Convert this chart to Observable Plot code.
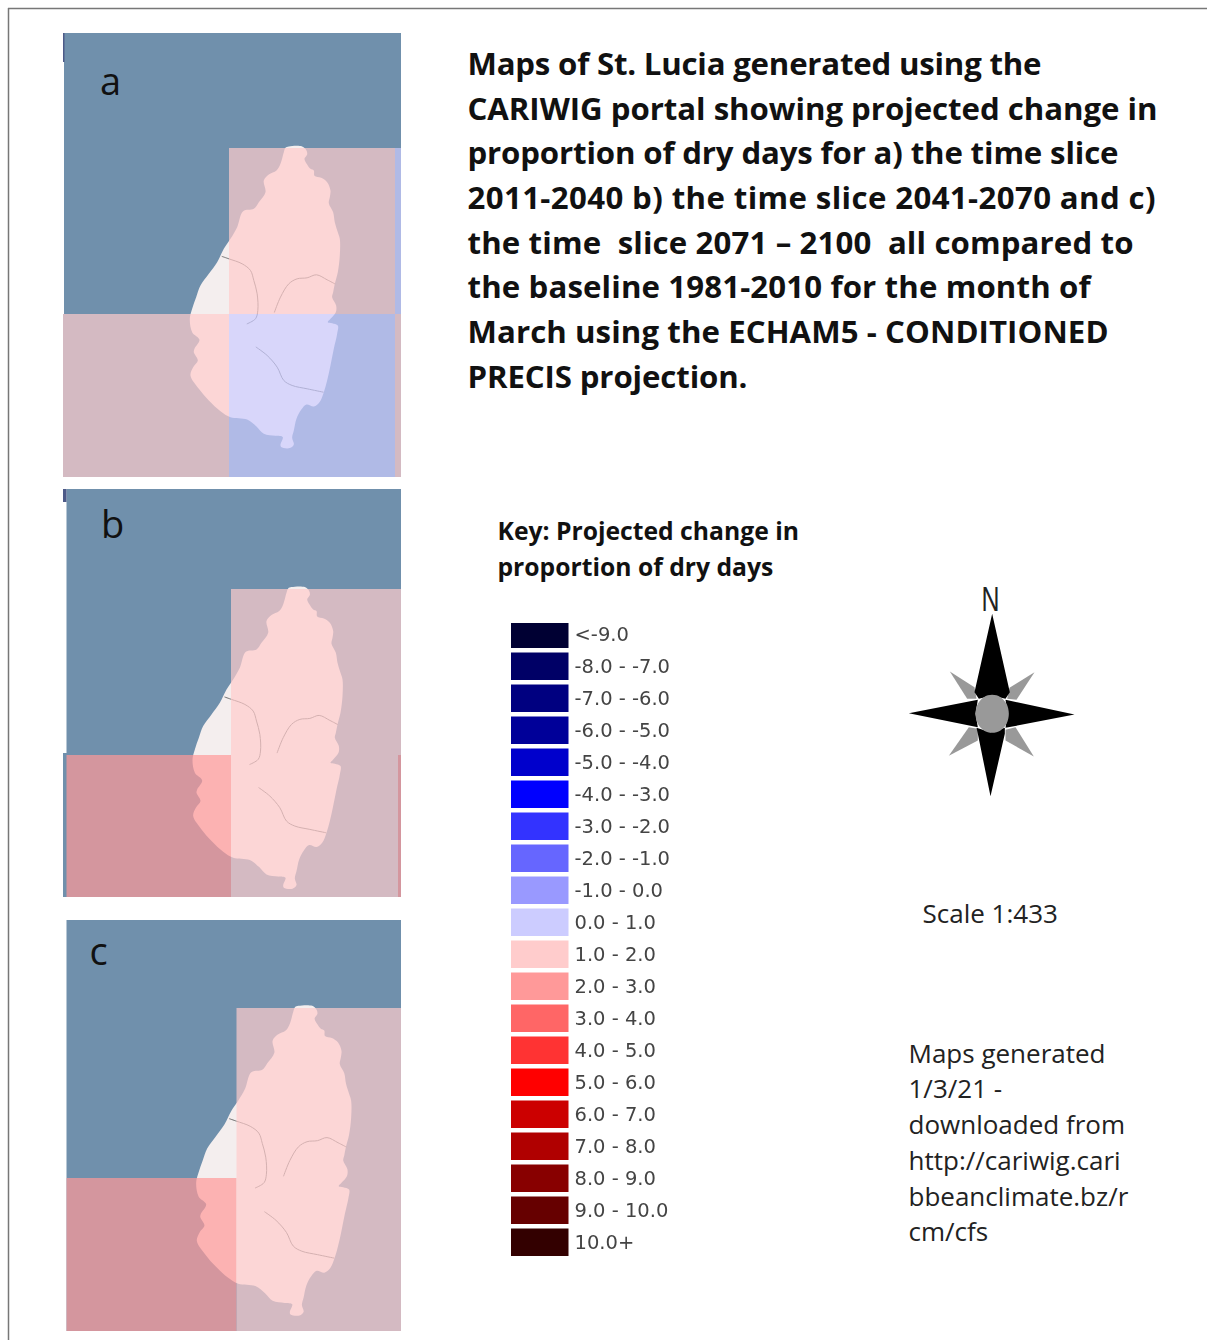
<!DOCTYPE html>
<html><head><meta charset="utf-8">
<script src="https://cdn.jsdelivr.net/npm/d3@7"></script>
<script src="https://cdn.jsdelivr.net/npm/@observablehq/plot@0.6"></script>
<style>html,body{margin:0;padding:0;background:#fff}svg{display:block}</style>
</head><body><div id="chart"></div>
<script>
// Legend
const keyLabels = ["<-9.0","-8.0 - -7.0","-7.0 - -6.0","-6.0 - -5.0","-5.0 - -4.0","-4.0 - -3.0","-3.0 - -2.0","-2.0 - -1.0","-1.0 - 0.0","0.0 - 1.0","1.0 - 2.0","2.0 - 3.0","3.0 - 4.0","4.0 - 5.0","5.0 - 6.0","6.0 - 7.0","7.0 - 8.0","8.0 - 9.0","9.0 - 10.0","10.0+"];
const keyColors = ["#000033","#000066","#000080","#000099","#0000cc","#0000ff","#3333ff","#6666ff","#9999ff","#ccccff","#ffcccc","#ff9999","#ff6666","#ff3333","#ff0000","#cc0000","#b00000","#880000","#660000","#330000"];
// Grid cells of each map: [x1, x2, y1, y2, class]
const cellsA = [[229,395,148,314,"1.0 - 2.0"],[395,401,148,314,"0.0 - 1.0"],[63,229,314,477,"1.0 - 2.0"],[229,395,314,477,"0.0 - 1.0"],[395,401,314,477,"1.0 - 2.0"]];
const cellsB = [[231,401,589,755,"1.0 - 2.0"],[66.5,231,755,897,"2.0 - 3.0"],[231,398,755,897,"1.0 - 2.0"],[398,401,755,897,"2.0 - 3.0"]];
const cellsC = [[236.5,401,1008,1178,"1.0 - 2.0"],[66.5,236.5,1178,1331,"2.0 - 3.0"],[236.5,401,1178,1331,"1.0 - 2.0"]];
// Sea rectangles behind each map: [x1, x2, y1, y2]
const seaRects = [[64,401,33,315],[63,401,314,477],[66.5,401,489,755],[63,401,753,897],[66.5,401,920,1331]];
const edgeStrips = [[63,64.5,33,62],[63,66.5,489,502]];
// Island outline and rivers in map units
const islandU = [705,715,755,768,770,762,770,780,790,792,812,830,840,838,835,848,853,862,868,868,862,853,848,845,857,856,840,832,845,862,860,850,840,830,820,807,790,768,752,738,730,725,730,718,692,690,697,675,640,618,590,540,510,475,445,420,428,442,430,432,447,425,418,425,437,450,475,500,520,540,560,578,610,625,645,640,655,678,690,700];
const islandV = [382,378,378,390,402,415,432,445,450,466,472,485,510,530,548,575,605,635,655,705,755,790,815,830,855,875,895,905,908,915,940,985,1035,1080,1115,1145,1158,1152,1168,1195,1230,1252,1272,1283,1280,1272,1250,1246,1240,1218,1197,1190,1172,1140,1105,1065,1040,1020,995,985,958,935,895,865,830,795,760,725,685,655,620,572,565,545,515,480,462,450,430,395];
const river1 = [[515,708],[535,715],[575,730],[600,750],[610,780],[620,820],[622,870],[615,895],[590,910]];
const river2 = [[672,875],[690,830],[715,790],[740,775],[770,772],[798,763],[830,778],[853,790]];
const river3 = [[617,980],[650,1005],[680,1040],[700,1080],[725,1095],[770,1105],[818,1115]];
// Placement of the island in each map: [x0, y0, sx, sy]
const mapPlacement = [[50,20,0.3333,0.3333],[52.7,460.6,0.3333,0.3333],[51.7,876,0.3444,0.3422]];
const mapLetters = [["a",110,82],["b",112,525],["c",98,952]];
// Text
const titleLines = ["Maps of St. Lucia generated using the","CARIWIG portal showing projected change in","proportion of dry days for a) the time slice","2011-2040 b) the time slice 2041-2070 and c)","the time  slice 2071 \u2013 2100  all compared to","the baseline 1981-2010 for the month of","March using the ECHAM5 - CONDITIONED","PRECIS projection."];
const titleY = [65,110,154,199,244,288,333,378];
const titleWidths = [574,690,651,688,666,623,641,280];
const keyTitle = ["Key: Projected change in","proportion of dry days"];
const keyTitleY = [532,568];
const noteLines = ["Maps generated","1/3/21 -","downloaded from","http://cariwig.cari","bbeanclimate.bz/r","cm/cfs"];
const noteY = [1054,1089,1125,1161,1197,1232];
// Compass shapes in compass units
const armN = [[305,130],[358,365],[345,385],[305,375],[265,385],[252,365]];
const armE = [[552,432],[345,472],[352,430],[345,388]];
const armS = [[300,677],[262,490],[258,472],[300,485],[343,472],[343,490]];
const armW = [[55,428],[262,388],[255,430],[262,470]];
const tipNE = [[432,305],[357,352],[350,385],[378,388]];
const tipNW = [[178,303],[252,350],[258,385],[230,385]];
const tipSE = [[430,558],[375,470],[345,478],[345,510]];
const tipSW = [[175,556],[235,470],[262,475],[262,510]];
const hub = [[305,373],[330,380],[348,400],[355,430],[348,460],[330,480],[305,487],[280,480],[262,460],[255,430],[262,400],[280,380]];
const cx = u => 890 + u / 3, cy = v => 570 + v / 3;

const toRect = r => ({x1:r[0],x2:r[1],y1:r[2],y2:r[3],k:r[4]});
const place = (pts,p) => pts.map(([u,v]) => ({x:p[0]+u*p[2], y:p[1]+v*p[3]}));
const island = islandU.map((u,i)=>[u,islandV[i]]);
const seaFill = "#7090ac";
const font = "'Open Sans'";
const soft = "blur(0.5px)";

const marks = [
  Plot.ruleX([8],{y1:8,y2:1340,stroke:"#777",strokeWidth:1.5}),
  Plot.ruleY([8],{x1:8,x2:1207,stroke:"#777",strokeWidth:1.5}),
  Plot.rect(seaRects.map(toRect),{x1:"x1",x2:"x2",y1:"y1",y2:"y2",fill:seaFill}),
  Plot.rect(edgeStrips.map(toRect),{x1:"x1",x2:"x2",y1:"y1",y2:"y2",fill:"#4d5a88"})
];
mapPlacement.forEach(p=>{
  marks.push(Plot.line(place(island,p),{x:"x",y:"y",fill:"#f4eeee",stroke:"none",curve:"catmull-rom-closed",imageFilter:soft}));
  [river1,river2,river3].forEach(r=>marks.push(Plot.line(place(r,p),{x:"x",y:"y",stroke:"#707070",strokeWidth:1,curve:"catmull-rom"})));
});
[cellsA,cellsB,cellsC].forEach(c=>marks.push(Plot.rect(c.map(toRect),{x1:"x1",x2:"x2",y1:"y1",y2:"y2",fill:"k",fillOpacity:0.7})));
marks.push(
  Plot.text(mapLetters,{x:d=>d[1],y:d=>d[2],text:d=>d[0],fontFamily:font,fontSize:38,fill:"#111",lineAnchor:"middle"}),
  Plot.text(titleLines,{x:()=>467,y:(d,i)=>titleY[i],text:d=>d,textAnchor:"start",lineAnchor:"middle",fontFamily:font,fontWeight:700,fontSize:31.2,fill:"#111"}),
  Plot.text(keyTitle,{x:()=>497,y:(d,i)=>keyTitleY[i],text:d=>d,textAnchor:"start",lineAnchor:"middle",fontFamily:font,fontWeight:700,fontSize:24.7,fill:"#111"}),
  Plot.rect(keyLabels,{x1:()=>511,x2:()=>568.5,y1:(d,i)=>i===0?623:620.5+32*i,y2:(d,i)=>648+32*i,fill:d=>d,imageFilter:soft}),
  Plot.text(keyLabels,{x:()=>574,y:(d,i)=>634+32*i,text:d=>d,textAnchor:"start",lineAnchor:"middle",fontFamily:"'DejaVu Sans'",fontSize:19.5,fill:"#444",imageFilter:soft}),
  Plot.text(["Scale 1:433"],{x:()=>922,y:()=>914,text:d=>d,textAnchor:"start",lineAnchor:"middle",fontFamily:font,fontSize:26,fill:"#222"}),
  Plot.text(noteLines,{x:()=>908,y:(d,i)=>noteY[i],text:d=>d,textAnchor:"start",lineAnchor:"middle",fontFamily:font,fontSize:26,fill:"#222"}),
  Plot.text(["N"],{x:()=>990,y:()=>599,text:d=>d,lineAnchor:"middle",fontFamily:"'Liberation Sans'",fontSize:35,fill:"#222"})
);
[tipNE,tipNW,tipSE,tipSW].forEach(t=>marks.push(Plot.line(t,{x:d=>cx(d[0]),y:d=>cy(d[1]),fill:"#999",stroke:"none"})));
[armN,armE,armS,armW].forEach(t=>marks.push(Plot.line(t,{x:d=>cx(d[0]),y:d=>cy(d[1]),fill:"#000",stroke:"none"})));
marks.push(Plot.line(hub,{x:d=>cx(d[0]),y:d=>cy(d[1]),fill:"#999",stroke:"none",curve:"catmull-rom-closed"}));

const chart = Plot.plot({
  width:1207,height:1340,margin:0,
  x:{type:"linear",domain:[0,1207],range:[0,1207],axis:null},
  y:{type:"linear",domain:[0,1340],range:[0,1340],axis:null},
  color:{type:"ordinal",domain:keyLabels,range:keyColors},
  style:{background:"#fff"},
  marks
});
chart.querySelectorAll("text").forEach(t=>{
  const i = titleLines.indexOf(t.textContent);
  if (i >= 0) t.setAttribute("textLength", titleWidths[i]);
  if (t.textContent === "N") { t.setAttribute("textLength", 18); t.setAttribute("lengthAdjust", "spacingAndGlyphs"); }
});
document.getElementById("chart").append(chart);
</script></body></html>
